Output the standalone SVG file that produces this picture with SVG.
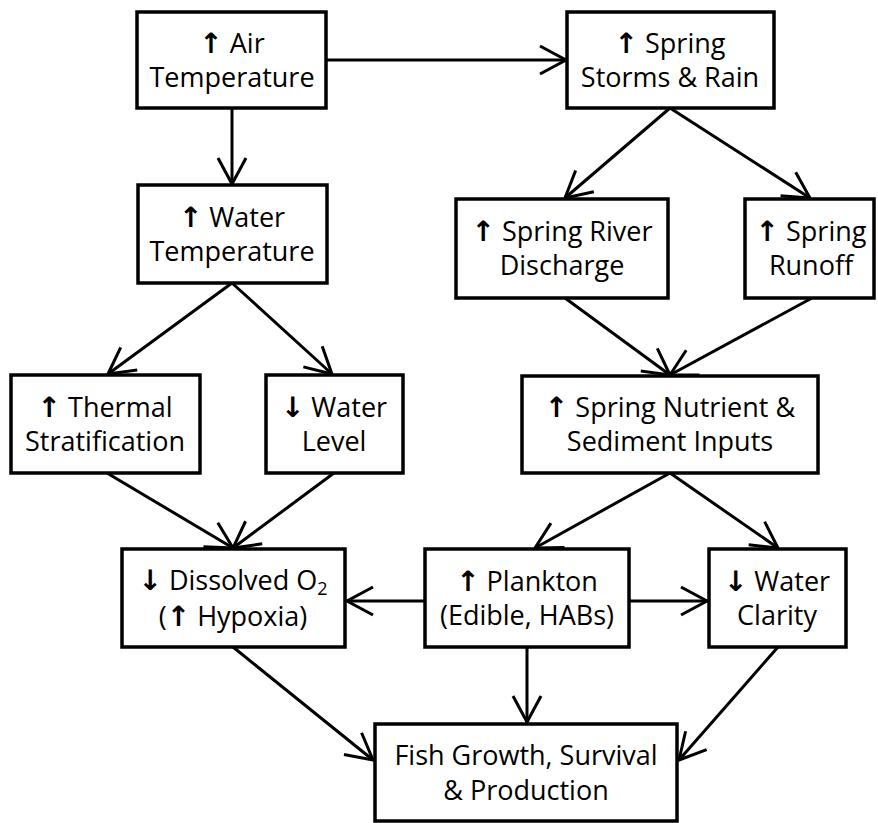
<svg xmlns="http://www.w3.org/2000/svg" width="878" height="823" viewBox="0 0 878 823">
<defs>
<style>
.box{fill:#fff;stroke:#000;stroke-width:3.5}
.lbl{font-family:"Open Sans","Noto Sans","DejaVu Sans",sans-serif;font-size:27px;fill:#000;text-anchor:middle}
.ar{font-family:"DejaVu Sans",sans-serif;font-weight:bold;font-size:28px}
.edge{fill:none;stroke:#000;stroke-width:3;marker-end:url(#head)}
</style>
<marker id="head" markerUnits="userSpaceOnUse" viewBox="-30 -16 32 32" refX="0" refY="0" markerWidth="32" markerHeight="32" orient="auto" overflow="visible">
<path d="M-26,-14 L0,0 L-26,14" fill="none" stroke="#000" stroke-width="3" stroke-linejoin="miter"/>
</marker>
</defs>
<g id="connectors">
<line class="edge" x1="232" y1="108" x2="232" y2="184"/>
<line class="edge" x1="326" y1="60" x2="566" y2="60"/>
<line class="edge" x1="670" y1="108" x2="565" y2="198"/>
<line class="edge" x1="670" y1="108" x2="810" y2="198"/>
<line class="edge" x1="232" y1="283" x2="108" y2="374"/>
<line class="edge" x1="232" y1="283" x2="332" y2="374"/>
<line class="edge" x1="565" y1="298" x2="670" y2="375"/>
<line class="edge" x1="812" y1="298" x2="670" y2="375"/>
<line class="edge" x1="107" y1="473" x2="233" y2="548"/>
<line class="edge" x1="334" y1="473" x2="233" y2="548"/>
<line class="edge" x1="670" y1="473" x2="535" y2="548"/>
<line class="edge" x1="670" y1="473" x2="778" y2="548"/>
<line class="edge" x1="425" y1="601" x2="347" y2="601"/>
<line class="edge" x1="629" y1="601" x2="707" y2="601"/>
<line class="edge" x1="527" y1="647" x2="527" y2="722"/>
<line class="edge" x1="233" y1="647" x2="373" y2="760"/>
<line class="edge" x1="778" y1="647" x2="679" y2="760"/>
</g>
<g id="air-temperature">
<rect class="box" x="137" y="12" width="189" height="96"/>
<text class="lbl" x="232" y="53"><tspan class="ar">↑</tspan> Air</text>
<text class="lbl" x="232" y="87">Temperature</text>
</g>
<g id="spring-storms">
<rect class="box" x="567" y="12" width="207" height="96"/>
<text class="lbl" x="670" y="53"><tspan class="ar">↑</tspan> Spring</text>
<text class="lbl" x="670" y="87">Storms &amp; Rain</text>
</g>
<g id="water-temperature">
<rect class="box" x="138" y="185" width="189" height="98"/>
<text class="lbl" x="232" y="227"><tspan class="ar">↑</tspan> Water</text>
<text class="lbl" x="232" y="261">Temperature</text>
</g>
<g id="spring-river-discharge">
<rect class="box" x="456" y="199" width="212" height="99"/>
<text class="lbl" x="562" y="241"><tspan class="ar">↑</tspan> Spring River</text>
<text class="lbl" x="562" y="275">Discharge</text>
</g>
<g id="spring-runoff">
<rect class="box" x="745" y="199" width="129" height="99"/>
<text class="lbl" x="811" y="241"><tspan class="ar">↑</tspan> Spring</text>
<text class="lbl" x="811" y="275">Runoff</text>
</g>
<g id="thermal-stratification">
<rect class="box" x="11" y="375" width="189" height="98"/>
<text class="lbl" x="105" y="417"><tspan class="ar">↑</tspan> Thermal</text>
<text class="lbl" x="105" y="451">Stratification</text>
</g>
<g id="water-level">
<rect class="box" x="266" y="375" width="137" height="98"/>
<text class="lbl" x="334" y="417"><tspan class="ar">↓</tspan> Water</text>
<text class="lbl" x="334" y="451">Level</text>
</g>
<g id="nutrient-inputs">
<rect class="box" x="522" y="376" width="296" height="97"/>
<text class="lbl" x="670" y="417"><tspan class="ar">↑</tspan> Spring Nutrient &amp;</text>
<text class="lbl" x="670" y="451">Sediment Inputs</text>
</g>
<g id="dissolved-o2">
<rect class="box" x="122" y="549" width="223" height="98"/>
<text class="lbl" x="233" y="590"><tspan class="ar">↓</tspan> Dissolved O<tspan font-size="18" dy="5">2</tspan></text>
<text class="lbl" x="233" y="626">(<tspan class="ar">↑</tspan> Hypoxia)</text>
</g>
<g id="plankton">
<rect class="box" x="425" y="549" width="204" height="98"/>
<text class="lbl" x="527" y="591"><tspan class="ar">↑</tspan> Plankton</text>
<text class="lbl" x="527" y="625">(Edible, HABs)</text>
</g>
<g id="water-clarity">
<rect class="box" x="709" y="549" width="137" height="98"/>
<text class="lbl" x="777" y="591"><tspan class="ar">↓</tspan> Water</text>
<text class="lbl" x="777" y="625">Clarity</text>
</g>
<g id="fish">
<rect class="box" x="375" y="724" width="302" height="97"/>
<text class="lbl" x="526" y="765">Fish Growth, Survival</text>
<text class="lbl" x="526" y="800">&amp; Production</text>
</g>
</svg>
